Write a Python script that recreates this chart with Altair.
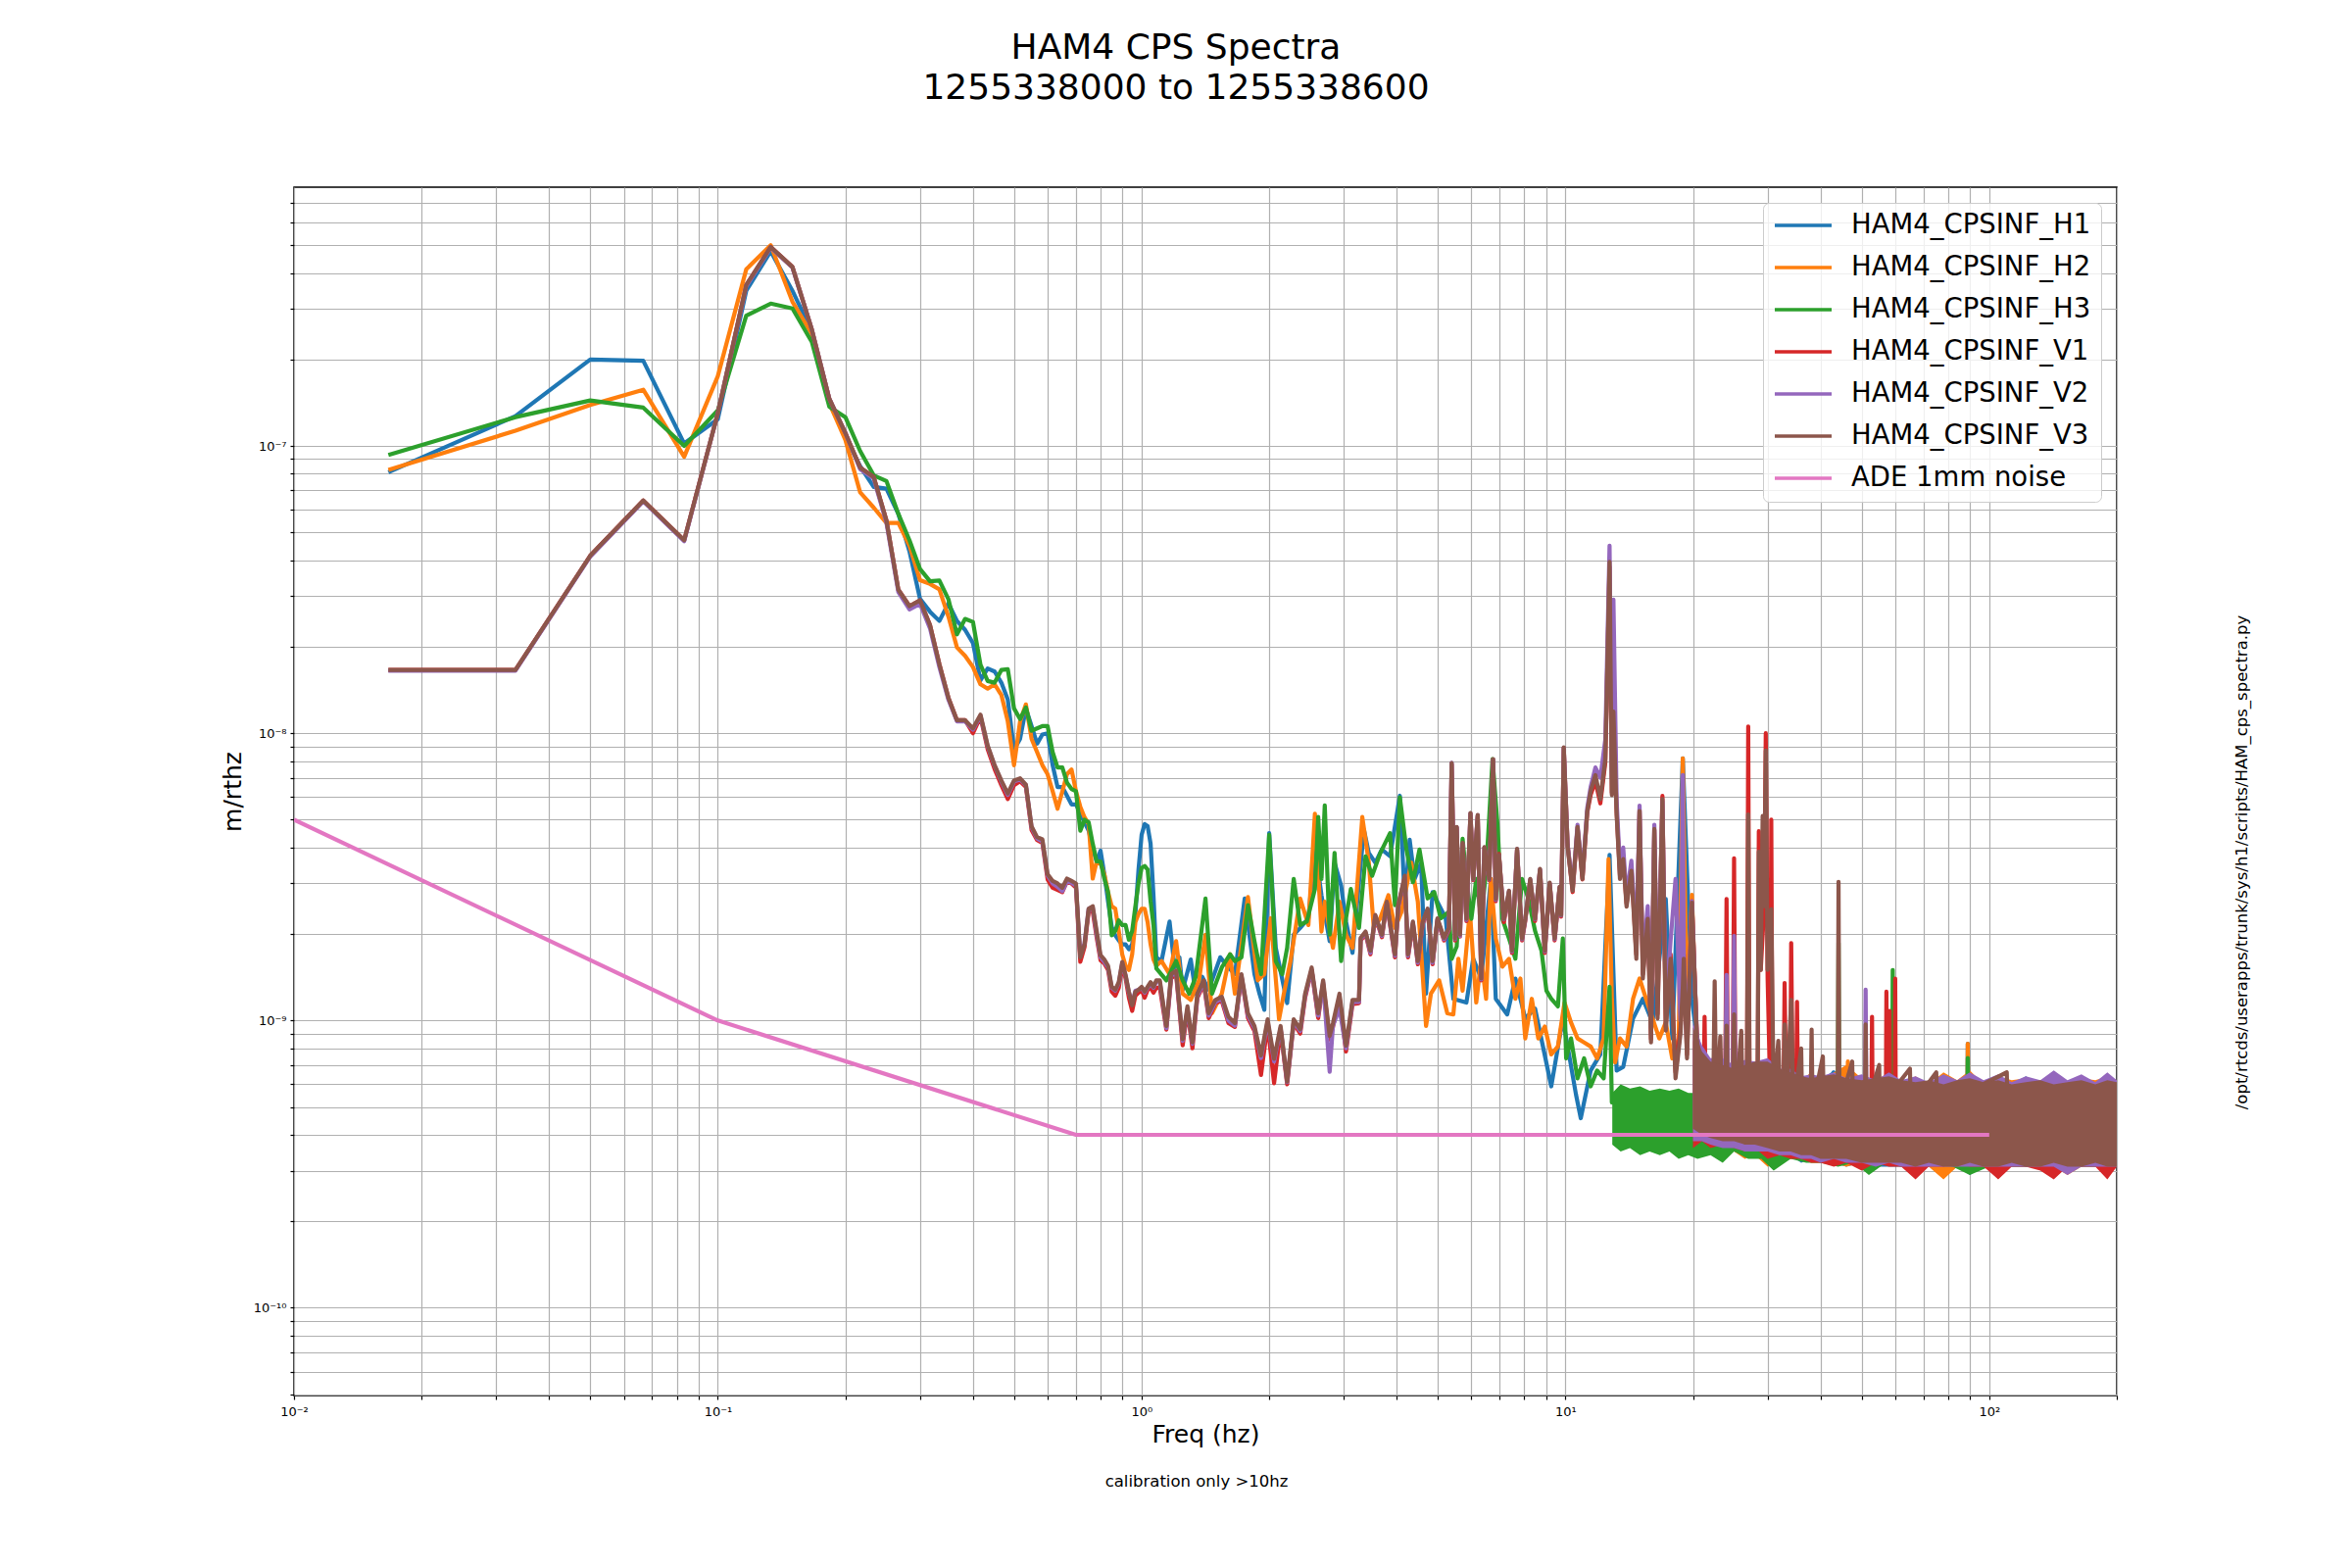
import altair as alt
import pandas as pd

SERIES = ["HAM4_CPSINF_H1", "HAM4_CPSINF_H2", "HAM4_CPSINF_H3",
          "HAM4_CPSINF_V1", "HAM4_CPSINF_V2", "HAM4_CPSINF_V3", "ADE 1mm noise"]
COLORS = ["#1f77b4", "#ff7f0e", "#2ca02c", "#d62728", "#9467bd", "#8c564b", "#e377c2"]
UNIT = 1e-9  # values below are in units of 1e-9 m/rtHz

X_TICKS = [0.01, 0.02, 0.03, 0.04, 0.05, 0.06, 0.07, 0.08, 0.09,
           0.1, 0.2, 0.3, 0.4, 0.5, 0.6, 0.7, 0.8, 0.9,
           1, 2, 3, 4, 5, 6, 7, 8, 9,
           10, 20, 30, 40, 50, 60, 70, 80, 90, 100, 200]
Y_TICKS = [5e-11, 6e-11, 7e-11, 8e-11, 9e-11,
           1e-10, 2e-10, 3e-10, 4e-10, 5e-10, 6e-10, 7e-10, 8e-10, 9e-10,
           1e-9, 2e-9, 3e-9, 4e-9, 5e-9, 6e-9, 7e-9, 8e-9, 9e-9,
           1e-8, 2e-8, 3e-8, 4e-8, 5e-8, 6e-8, 7e-8, 8e-8, 9e-8,
           1e-7, 2e-7, 3e-7, 4e-7, 5e-7, 6e-7, 7e-7]
X_LABELS = {-2: "10⁻²", -1: "10⁻¹", 0: "10⁰", 1: "10¹", 2: "10²"}
Y_LABELS = {-10: "10⁻¹⁰", -9: "10⁻⁹", -8: "10⁻⁸", -7: "10⁻⁷"}

# ---- low-frequency part, df = 1/60 Hz ----
LOW_F = [0.0167, 0.0333, 0.05, 0.0667, 0.0833, 0.1, 0.1167, 0.1333, 0.15, 0.1667,
         0.1833, 0.2, 0.2167, 0.2333, 0.25, 0.2667, 0.2833, 0.3, 0.3167, 0.3333,
         0.35, 0.3667, 0.3833, 0.4, 0.4167, 0.4333, 0.45, 0.4667, 0.4833, 0.5,
         0.5167, 0.5333, 0.55, 0.5667, 0.5833, 0.6, 0.6167, 0.6333, 0.65, 0.6667,
         0.6833, 0.7, 0.7167, 0.7333, 0.75, 0.7667, 0.7833, 0.8, 0.8167, 0.8333,
         0.85, 0.8667, 0.8833, 0.9, 0.9167, 0.9333, 0.95, 0.9667, 0.9833, 1.0,
         1.0167, 1.0333, 1.05, 1.0667, 1.0833]
H1_LOW = [81, 127, 200, 198, 102, 124, 347, 476, 347, 250,
          141, 108, 85, 72, 71, 58, 43, 29.4, 26.5, 24.6,
          28.3, 24.6, 22.9, 20.6, 15.3, 16.8, 16.4, 15.0, 13.1, 8.76,
          9.56, 12.2, 10.6, 9.2, 9.9, 10.0, 7.74, 6.5, 6.5, 6.06,
          5.65, 5.65, 5.27, 4.9, 4.58, 3.98, 3.58, 3.9, 3.23, 2.6,
          2.12, 1.98, 1.9, 1.84, 1.84, 1.77, 1.84, 2.35, 3.35, 4.43,
          4.83, 4.75, 4.13, 2.72, 1.66]
H2_LOW = [82.6, 113, 139, 157, 91.7, 175, 412, 500, 318, 245,
          141, 105, 69, 61, 54, 54, 45, 34.1, 33.1, 31.7,
          25.5, 19.9, 18.6, 17.0, 14.8, 14.3, 14.8, 13.6, 11.0, 7.74,
          11.0, 12.6, 9.56, 8.6, 7.74, 7.2, 6.28, 5.46, 6.28, 7.2,
          7.48, 6.28, 5.55, 5.1, 4.83, 3.12, 3.58, 3.52, 3.23, 2.8,
          2.5, 2.45, 2.05, 1.7, 1.55, 1.5, 1.7, 2.2, 2.35, 2.45,
          2.45, 2.2, 1.84, 1.63, 1.55]
H3_LOW = [93, 126, 144, 136, 100, 133, 284, 313, 301, 230,
          137, 126, 96, 79, 75.5, 58, 47, 37.3, 33.8, 34.0,
          29.3, 22.1, 25.0, 24.4, 17.3, 15.2, 15.0, 16.6, 16.7, 12.2,
          11.2, 12.3, 10.2, 10.4, 10.6, 10.6, 8.6, 7.6, 7.6, 6.73,
          6.4, 6.28, 4.58, 5.0, 4.9, 4.13, 3.58, 3.58, 3.12, 2.8,
          1.98, 2.05, 2.23, 2.15, 2.15, 1.91, 2.05, 2.5, 3.0, 3.4,
          3.45, 3.35, 2.6, 2.15, 1.52]
V1_LOW = [16.6, 16.6, 41.5, 64.6, 47, 130, 363, 493, 420, 254,
          146, 111, 84, 78, 55, 31.6, 27.7, 29.0, 23.8, 17.4,
          13.3, 11.1, 11.1, 10.0, 11.4, 8.8, 7.5, 6.6, 5.9, 6.6,
          6.8, 6.5, 4.6, 4.25, 4.15, 3.1, 2.9, 2.85, 2.8, 3.05,
          3.0, 2.9, 1.6, 1.8, 2.4, 2.4, 1.95, 1.62, 1.58, 1.5,
          1.26, 1.22, 1.3, 1.55, 1.4, 1.2, 1.08, 1.22, 1.25, 1.28,
          1.2, 1.28, 1.3, 1.25, 1.3]
V2_LOW = [16.5, 16.5, 41.2, 64.2, 46.6, 130, 360, 490, 418, 254,
          146, 111, 83, 77, 54, 31.0, 27.0, 28.2, 23.2, 17.0,
          13.1, 11.0, 11.0, 10.3, 11.5, 9.0, 7.7, 6.8, 6.1, 6.8,
          6.9, 6.6, 4.7, 4.3, 4.2, 3.2, 3.0, 2.92, 2.82, 3.05,
          3.02, 2.95, 1.68, 1.86, 2.45, 2.48, 2.0, 1.66, 1.6, 1.53,
          1.3, 1.27, 1.35, 1.58, 1.43, 1.25, 1.15, 1.27, 1.28, 1.3,
          1.25, 1.3, 1.34, 1.3, 1.37]
V3_LOW = [16.6, 16.6, 41.5, 64.6, 47, 130, 363, 493, 420, 254,
          146, 111, 84, 78, 55, 31.6, 27.7, 29.0, 23.8, 17.4,
          13.3, 11.1, 11.1, 10.4, 11.6, 9.07, 7.74, 6.85, 6.17, 6.85,
          6.97, 6.62, 4.74, 4.35, 4.27, 3.23, 3.06, 3.0, 2.9, 3.12,
          3.06, 3.0, 1.66, 1.84, 2.45, 2.5, 2.05, 1.69, 1.63, 1.55,
          1.31, 1.28, 1.36, 1.6, 1.44, 1.26, 1.13, 1.26, 1.28, 1.31,
          1.26, 1.31, 1.36, 1.31, 1.38]

# ---- mid / high frequency lines ----
H1_MID_F = [1.114, 1.164, 1.196, 1.228, 1.25, 1.306, 1.342, 1.39, 1.44, 1.533,
            1.603, 1.66, 1.751, 1.846, 1.897, 1.948, 2.0, 2.073, 2.205, 2.285,
            2.367, 2.475, 2.564, 2.657, 2.778, 2.853, 2.956, 3.036, 3.145, 3.258,
            3.346, 3.437, 3.56, 3.69, 3.857, 4.068, 4.178, 4.29, 4.406, 4.566,
            4.69, 4.859, 5.035, 5.218, 5.44, 5.84, 6.06, 6.33, 6.67, 6.85,
            7.29, 7.62, 8.04, 8.48, 9.26, 9.86, 10.59, 10.87, 11.47, 12.09,
            12.71, 13.21, 13.69, 14.44, 15.23, 16.06, 17.25, 17.87, 18.92, 19.88,
            20.42, 21.5, 42.7, 42.9, 43.1, 88.8, 89.0, 89.2, 200]
H1_MID_V = [1.61, 2.21, 1.53, 1.66, 1.28, 1.63, 1.24, 1.42, 1.28, 1.66,
            1.53, 1.45, 2.66, 1.45, 1.24, 1.09, 4.49, 1.79, 1.15, 1.99,
            2.10, 2.27, 4.04, 2.73, 1.89, 3.54, 2.95, 2.21, 1.72, 3.03,
            4.61, 3.83, 3.54, 3.94, 3.73, 6.06, 2.59, 4.26, 3.11, 3.54,
            1.24, 2.80, 2.52, 2.27, 1.19, 1.155, 1.64, 1.40, 3.11, 1.19,
            1.05, 1.40, 1.016, 1.10, 0.59, 1.016, 0.553, 0.457, 0.67, 0.762,
            3.77, 0.67, 0.69, 1.016, 1.19, 0.984, 2.65, 0.866, 8.18, 1.19,
            0.866, 0.5, 0.5, 0.66, 0.5, 0.5, 0.83, 0.5, 0.45]
H2_MID_F = [1.114, 1.164, 1.206, 1.25, 1.306, 1.366, 1.415, 1.466, 1.546, 1.617,
            1.66, 1.782, 1.88, 1.948, 2.018, 2.11, 2.166, 2.245, 2.367, 2.475,
            2.564, 2.657, 2.705, 2.828, 2.93, 3.036, 3.145, 3.317, 3.437, 3.53,
            3.658, 3.823, 3.961, 4.104, 4.328, 4.485, 4.69, 4.816, 5.035, 5.264,
            5.44, 5.59, 5.72, 5.95, 6.16, 6.33, 6.50, 6.67, 6.85, 7.10,
            7.36, 7.62, 7.83, 8.04, 8.33, 8.63, 8.94, 9.26, 9.60, 9.95,
            10.31, 10.68, 11.07, 11.47, 11.88, 12.31, 12.64, 12.87, 13.10, 13.45,
            13.94, 14.44, 14.96, 15.50, 16.06, 16.65, 17.25, 17.87, 18.51, 18.92,
            19.36, 19.88, 20.42, 20.97, 21.5, 46.2, 46.4, 46.6, 88.8, 89.0,
            89.2, 200]
H2_MID_V = [1.61, 1.45, 1.89, 1.24, 1.18, 1.38, 1.99, 1.06, 1.24, 1.70,
            1.24, 2.69, 1.38, 1.45, 2.27, 1.01, 1.24, 1.61, 2.66, 2.15,
            5.25, 2.04, 2.59, 1.79, 2.59, 1.99, 1.79, 5.11, 3.54, 2.10,
            2.27, 2.73, 2.10, 2.39, 3.54, 2.59, 0.957, 1.24, 1.38, 1.06,
            1.05, 1.64, 1.27, 2.41, 1.155, 1.64, 1.19, 3.11, 1.93, 1.54,
            1.64, 1.19, 1.40, 0.866, 1.19, 0.866, 0.953, 0.762, 0.812, 1.155,
            0.984, 0.866, 0.839, 0.812, 0.738, 0.866, 3.65, 1.19, 0.715, 0.866,
            0.812, 1.19, 1.40, 1.19, 1.016, 0.866, 0.984, 0.738, 0.866, 8.18,
            1.016, 2.74, 0.866, 0.67, 0.5, 0.5, 0.72, 0.5, 0.5, 0.83,
            0.5, 0.45]
H3_MID_F = [1.144, 1.206, 1.25, 1.295, 1.342, 1.415, 1.466, 1.546, 1.617, 1.66,
            1.72, 1.782, 1.846, 1.913, 2.0, 2.073, 2.147, 2.205, 2.285, 2.367,
            2.453, 2.564, 2.61, 2.657, 2.705, 2.778, 2.853, 2.956, 3.036, 3.117,
            3.258, 3.376, 3.498, 3.658, 3.857, 3.961, 4.068, 4.215, 4.367, 4.525,
            4.731, 4.903, 5.08, 5.31, 5.39, 5.54, 5.72, 5.84, 6.0, 6.16,
            6.33, 6.50, 6.73, 6.91, 7.10, 7.36, 7.62, 7.90, 8.18, 8.48,
            8.78, 9.02, 9.26, 9.60, 9.86, 10.04, 10.31, 10.68, 11.07, 11.47,
            11.88, 12.31, 12.71, 12.87, 43.9, 44.1, 44.3, 59.0, 59.2, 59.4,
            88.8, 89.0, 89.2, 200]
H3_MID_V = [1.38, 1.61, 1.38, 1.24, 1.42, 2.66, 1.24, 1.53, 1.70, 1.61,
            1.66, 2.52, 1.89, 1.45, 4.43, 1.61, 1.45, 1.79, 3.11, 2.15,
            2.21, 2.87, 5.11, 3.11, 5.61, 1.99, 3.83, 1.61, 2.27, 2.87,
            2.10, 3.73, 3.19, 3.83, 4.49, 2.52, 5.98, 3.94, 3.03, 3.94,
            2.66, 2.80, 2.27, 2.39, 1.64, 1.81, 4.29, 3.11, 2.26, 3.11,
            2.26, 3.32, 8.13, 4.87, 2.26, 1.93, 1.64, 3.11, 2.65, 2.05,
            1.75, 1.27, 1.19, 1.12, 1.93, 0.738, 0.866, 0.629, 0.738, 0.59,
            0.67, 0.629, 1.31, 0.519, 0.45, 1.86, 0.45, 0.45, 1.5, 0.45,
            0.45, 0.74, 0.45, 0.45]

V_MID_F = [1.104, 1.144, 1.174, 1.206, 1.25, 1.283, 1.318, 1.354, 1.402, 1.44,
           1.493, 1.546, 1.603, 1.66, 1.72, 1.782, 1.846, 1.913, 1.983, 2.054,
           2.128, 2.205, 2.285, 2.367, 2.431, 2.519, 2.61, 2.681, 2.778, 2.828,
           2.93, 3.036, 3.145, 3.258, 3.287, 3.376, 3.467, 3.56, 3.69, 3.79,
           3.961, 4.032, 4.178, 4.252, 4.367, 4.485, 4.606, 4.731, 4.859, 4.99,
           5.17, 5.31, 5.39, 5.49, 5.54, 5.64, 5.72, 5.84, 5.97, 6.06,
           6.21, 6.33, 6.44, 6.61, 6.75, 6.85, 6.97, 7.16, 7.36, 7.48,
           7.69, 7.90, 8.04, 8.26, 8.48, 8.71, 8.94, 9.18, 9.43, 9.69,
           9.77, 9.91, 10.12, 10.40, 10.68, 10.97, 11.26, 11.47, 11.77, 12.09,
           12.42, 12.71, 12.87, 12.98, 13.21, 13.45, 13.69, 13.94, 14.31, 14.70,
           14.96, 15.23, 15.64, 15.92, 16.21, 16.50, 16.94, 17.25, 17.71, 18.19,
           18.68, 18.92, 19.02, 19.36, 19.88, 20.42, 20.97]
V1_MID = [1.30, 0.93, 1.40, 1.45, 0.82, 1.08, 0.80, 1.20, 1.34, 1.02,
          1.15, 1.17, 0.98, 0.95, 1.42, 1.02, 0.92, 0.646, 0.97, 0.605,
          0.93, 0.60, 0.98, 0.90, 1.2, 1.5, 1.02, 1.34, 0.86, 0.95,
          1.2, 0.78, 1.14, 1.15, 1.9, 2.0, 1.7, 2.3, 1.95, 2.55,
          1.66, 2.48, 3.15, 1.66, 2.17, 1.57, 2.17, 2.42, 1.57, 2.24,
          1.9, 2.06, 7.8, 1.9, 4.7, 1.96, 4.1, 2.22, 5.25, 3.08,
          5.15, 1.38, 4.0, 3.08, 8.1, 2.6, 3.8, 2.2, 2.8, 1.72,
          3.93, 1.9, 2.22, 3.08, 2.22, 3.34, 1.72, 3.0, 1.9, 2.9,
          2.3, 8.9, 4.1, 2.8, 4.7, 3.1, 5.3, 6.1, 6.8, 5.7,
          7.9, 38.0, 6.2, 11.5, 5.3, 3.2, 3.7, 2.55, 3.4, 1.7,
          5.4, 1.45, 2.3, 0.86, 4.6, 1.05, 6.05, 0.95, 1.7, 0.66,
          0.93, 1.35, 1.7, 0.76, 2.6, 0.9, 0.62]
V2_MID = [1.36, 0.94, 1.43, 1.47, 0.85, 1.1, 0.83, 1.22, 1.36, 1.04,
          1.16, 1.19, 1.0, 0.96, 1.43, 1.04, 0.94, 0.74, 0.99, 0.72,
          0.94, 0.61, 0.99, 0.92, 1.22, 1.5, 1.04, 1.36, 0.663, 0.96,
          1.1, 0.8, 1.16, 1.16, 1.92, 2.02, 1.72, 2.31, 1.97, 2.57,
          1.68, 2.5, 3.17, 1.68, 2.19, 1.59, 2.19, 2.43, 1.59, 2.25,
          1.92, 2.08, 7.9, 1.92, 4.7, 1.97, 4.13, 2.24, 5.27, 3.1,
          5.18, 1.39, 4.0, 3.1, 8.1, 2.63, 3.75, 2.25, 2.82, 1.74,
          3.95, 1.92, 2.25, 3.1, 2.25, 3.36, 1.74, 3.01, 1.92, 2.91,
          2.32, 8.9, 4.1, 2.9, 4.8, 3.2, 5.5, 6.5, 7.6, 7.0,
          9.5, 45.0, 7.0, 29.2, 5.8, 3.4, 4.0, 2.7, 3.6, 1.9,
          5.6, 1.6, 2.5, 0.95, 4.8, 1.2, 5.8, 1.1, 1.9, 3.11,
          1.0, 7.15, 1.7, 0.8, 2.6, 0.9, 0.62]
V3_MID = [1.38, 0.957, 1.45, 1.49, 0.861, 1.12, 0.839, 1.24, 1.38, 1.06,
          1.18, 1.21, 1.03, 0.98, 1.45, 1.06, 0.957, 0.756, 1.01, 0.736,
          0.957, 0.613, 1.01, 0.932, 1.24, 1.53, 1.06, 1.38, 0.884, 0.98,
          1.24, 0.818, 1.18, 1.18, 1.94, 2.04, 1.75, 2.33, 1.99, 2.59,
          1.70, 2.52, 3.19, 1.70, 2.21, 1.61, 2.21, 2.45, 1.61, 2.27,
          1.94, 2.10, 7.87, 1.93, 4.72, 1.99, 4.15, 2.26, 5.28, 3.11,
          5.19, 1.40, 4.02, 3.11, 8.13, 2.65, 3.77, 2.26, 2.83, 1.75,
          3.96, 1.93, 2.26, 3.11, 2.26, 3.37, 1.75, 3.02, 1.93, 2.92,
          2.33, 8.94, 4.02, 2.83, 4.72, 3.11, 5.36, 6.29, 7.15, 5.90,
          8.13, 39.5, 6.09, 11.9, 5.19, 3.11, 3.65, 2.49, 3.32, 1.64,
          5.36, 1.40, 2.26, 0.839, 4.64, 1.016, 5.90, 0.923, 1.64, 0.629,
          0.894, 1.3, 1.64, 0.738, 2.57, 0.866, 0.59]

V1_HI_F = [21.15, 21.3, 21.45, 23.8, 24.0, 24.2, 24.8, 25.0, 25.2, 26.8,
           27.0, 27.2, 28.4, 28.6, 28.9, 29.45, 29.7, 30.0, 30.4, 30.6,
           30.8, 32.7, 32.9, 33.2, 33.9, 34.1, 34.4, 35.0, 35.2, 35.4,
           52.7, 52.9, 53.1, 57.0, 57.2, 57.5, 58.0, 58.2, 58.4, 59.8,
           60.0, 60.2, 200]
V1_HI_V = [0.5, 1.03, 0.5, 0.5, 2.65, 0.5, 0.5, 3.67, 0.5, 0.5,
           10.56, 0.5, 0.5, 4.56, 1.5, 2.5, 10.0, 1.4, 0.6, 5.0,
           0.6, 0.5, 1.35, 0.5, 0.5, 1.86, 0.5, 0.5, 1.16, 0.5,
           0.45, 1.03, 0.45, 0.45, 1.26, 0.45, 0.45, 1.08, 0.45, 0.45,
           1.4, 0.45, 0.45]
V2_HI_F = [22.0, 23.8, 24.0, 24.2, 24.8, 25.0, 25.2, 50.9, 51.1, 51.3, 200]
V2_HI_V = [0.55, 0.55, 1.44, 0.55, 0.55, 1.97, 0.55, 0.5, 1.28, 0.5, 0.5]
V3_HI_F = [21.5, 22.3, 22.5, 22.7, 23.2, 23.4, 23.8, 24.0, 24.2, 24.8,
           25.0, 25.2, 26.0, 26.2, 26.8, 27.0, 27.2, 28.4, 28.6, 28.9,
           29.2, 29.45, 29.7, 30.0, 30.6, 31.0, 31.8, 32.1, 32.7, 32.9,
           33.3, 34.1, 34.5, 36.0, 36.2, 37.9, 38.1, 38.3, 40.5, 40.7,
           43.9, 44.1, 44.3, 47.5, 47.7, 50.9, 51.1, 51.3, 55.0, 55.2,
           65.0, 65.3, 75.0, 75.3, 110.0, 110.5, 200]
V3_HI_V = [0.5, 0.5, 1.37, 0.5, 0.88, 0.5, 0.5, 0.96, 0.5, 0.5,
           1.05, 0.5, 0.92, 0.5, 0.5, 5.22, 0.5, 0.55, 3.87, 1.5,
           5.15, 2.5, 8.7, 1.5, 2.44, 0.55, 0.85, 0.55, 0.55, 0.97,
           0.55, 1.18, 0.5, 0.8, 0.5, 0.5, 0.93, 0.5, 0.75, 0.5,
           0.5, 3.04, 0.5, 0.72, 0.5, 0.5, 0.97, 0.5, 0.7, 0.5,
           0.68, 0.5, 0.66, 0.5, 0.66, 0.5, 0.48]

ADE_F = [0.01, 0.1, 0.7, 100]
ADE_V = [5.0, 1.0, 0.4, 0.4]

# ---- dense noise floor (envelopes, low/high) ----
BAND_F = [20, 21, 22, 23.5, 25, 26.5, 28, 30, 32, 34, 36, 38, 40, 43, 46, 50, 54, 58, 62, 67,
          72, 78, 84, 90, 97, 105, 113, 122, 132, 142, 153, 165, 178, 190, 200]
H1_BAND_HI = [0.80, 0.72, 0.70, 0.68, 0.66, 0.68, 0.66, 0.70, 0.64, 0.66, 0.62, 0.64, 0.62, 0.67, 0.64, 0.62, 0.62, 0.64,
              0.62, 0.63, 0.60, 0.64, 0.61, 0.65, 0.60, 0.64, 0.60, 0.64, 0.60, 0.63, 0.60, 0.64, 0.61, 0.64, 0.61]
H1_BAND_LO = [0.38, 0.37, 0.35, 0.36, 0.35, 0.34, 0.35, 0.33, 0.33, 0.34, 0.32, 0.33, 0.32, 0.32, 0.31, 0.32, 0.31, 0.31,
              0.31, 0.31, 0.31, 0.31, 0.31, 0.29, 0.31, 0.31, 0.31, 0.31, 0.31, 0.30, 0.31, 0.31, 0.31, 0.31, 0.31]
H2_BAND_HI = [0.85, 0.75, 0.70, 0.72, 0.66, 0.70, 0.66, 0.72, 0.64, 0.68, 0.62, 0.66, 0.62, 0.66, 0.70, 0.63, 0.62, 0.66,
              0.60, 0.64, 0.60, 0.66, 0.62, 0.67, 0.60, 0.64, 0.62, 0.63, 0.61, 0.63, 0.61, 0.63, 0.62, 0.64, 0.62]
H2_BAND_LO = [0.38, 0.36, 0.36, 0.35, 0.35, 0.33, 0.34, 0.31, 0.33, 0.33, 0.33, 0.32, 0.32, 0.32, 0.31, 0.32, 0.31, 0.32,
              0.31, 0.31, 0.31, 0.28, 0.31, 0.31, 0.31, 0.31, 0.31, 0.31, 0.31, 0.31, 0.29, 0.31, 0.31, 0.31, 0.31]
H3_BAND_F = [12.9, 13.5, 14.2, 15, 15.8, 16.7, 17.6, 18.5, 19.5, 20.5, 22, 23.5, 25, 27, 29, 31, 34, 37, 40, 44,
             48, 52, 57, 62, 68, 75, 82, 90, 100, 112, 125, 140, 160, 180, 200]
H3_BAND_HI = [0.56, 0.60, 0.58, 0.59, 0.57, 0.58, 0.57, 0.58, 0.56, 0.56, 0.55, 0.56, 0.56, 0.57, 0.56, 0.57, 0.58, 0.57,
              0.58, 0.58, 0.57, 0.58, 0.57, 0.58, 0.59, 0.60, 0.59, 0.60, 0.60, 0.59, 0.60, 0.60, 0.59, 0.60, 0.59]
H3_BAND_LO = [0.37, 0.35, 0.36, 0.34, 0.35, 0.34, 0.35, 0.33, 0.34, 0.33, 0.34, 0.32, 0.35, 0.33, 0.33, 0.30, 0.33, 0.32,
              0.32, 0.31, 0.32, 0.29, 0.32, 0.31, 0.31, 0.32, 0.31, 0.29, 0.31, 0.31, 0.31, 0.32, 0.31, 0.31, 0.31]
V1_BAND_HI = [0.90, 0.76, 0.72, 0.68, 0.70, 0.68, 0.70, 0.70, 0.66, 0.64, 0.62, 0.62, 0.63, 0.63, 0.62, 0.61, 0.62, 0.62,
              0.61, 0.60, 0.61, 0.60, 0.61, 0.61, 0.60, 0.61, 0.60, 0.60, 0.61, 0.60, 0.60, 0.61, 0.60, 0.60, 0.60]
V1_BAND_LO = [0.36, 0.38, 0.36, 0.37, 0.36, 0.35, 0.36, 0.33, 0.34, 0.33, 0.33, 0.32, 0.32, 0.31, 0.32, 0.30, 0.32, 0.31,
              0.31, 0.28, 0.31, 0.31, 0.32, 0.31, 0.31, 0.28, 0.31, 0.31, 0.30, 0.28, 0.31, 0.31, 0.31, 0.28, 0.31]
V2_BAND_HI = [0.98, 0.82, 0.74, 0.74, 0.70, 0.73, 0.72, 0.74, 0.68, 0.68, 0.64, 0.65, 0.64, 0.66, 0.63, 0.65, 0.62, 0.66,
              0.62, 0.64, 0.61, 0.65, 0.62, 0.66, 0.62, 0.65, 0.61, 0.64, 0.62, 0.67, 0.62, 0.65, 0.61, 0.66, 0.62]
V2_BAND_LO = [0.38, 0.38, 0.37, 0.36, 0.36, 0.35, 0.35, 0.35, 0.34, 0.34, 0.33, 0.33, 0.32, 0.33, 0.32, 0.32, 0.31, 0.32,
              0.31, 0.31, 0.31, 0.31, 0.31, 0.31, 0.31, 0.31, 0.31, 0.31, 0.31, 0.31, 0.29, 0.31, 0.31, 0.31, 0.31]
V3_BAND_HI = [0.95, 0.78, 0.72, 0.70, 0.68, 0.70, 0.72, 0.72, 0.68, 0.66, 0.64, 0.63, 0.64, 0.65, 0.63, 0.62, 0.63, 0.64,
              0.62, 0.61, 0.62, 0.60, 0.62, 0.63, 0.61, 0.62, 0.60, 0.61, 0.62, 0.60, 0.61, 0.62, 0.60, 0.62, 0.61]
V3_BAND_LO = [0.42, 0.40, 0.39, 0.38, 0.38, 0.37, 0.37, 0.36, 0.35, 0.35, 0.34, 0.34, 0.33, 0.33, 0.33, 0.32, 0.32, 0.32,
              0.32, 0.31, 0.32, 0.31, 0.31, 0.32, 0.31, 0.31, 0.32, 0.31, 0.31, 0.32, 0.31, 0.31, 0.32, 0.31, 0.31]

TITLE = ["HAM4 CPS Spectra", "1255338000 to 1255338600"]
X_TITLE = "Freq (hz)"
Y_TITLE = "m/rthz"
FOOT = "calibration only >10hz"
SIDE = "/opt/rtcds/userapps/trunk/sys/h1/scripts/HAM_cps_spectra.py"

FONT = "DejaVu Sans"


def line_df(name, fs, vs):
    rows = sorted(zip(fs, vs))
    return pd.DataFrame({"f": [r[0] for r in rows], "v": [r[1] * UNIT for r in rows], "series": name})


def band_df(fs, lo, hi):
    n = min(len(fs), len(lo), len(hi))
    return pd.DataFrame({"f": fs[:n], "v": [x * UNIT for x in lo[:n]], "v2": [x * UNIT for x in hi[:n]]})


def label_expr(mapping):
    parts = []
    for e, lab in mapping.items():
        parts.append(f"abs(log(datum.value)/LN10 - ({e})) < 0.001 ? '{lab}'")
    return " : ".join(parts) + " : ''"


x_enc = alt.X("f:Q", title=X_TITLE,
              scale=alt.Scale(type="log", domain=[0.01, 200], nice=False),
              axis=alt.Axis(values=X_TICKS, labelExpr=label_expr(X_LABELS), tickSize=4,
                            labelPadding=6, labelFontSize=13, titleFontSize=25, titlePadding=4,
                            labelOverlap=False, labelFlush=False, labelBound=False))
y_enc = alt.Y("v:Q", title=Y_TITLE,
              scale=alt.Scale(type="log", domain=[4.95e-11, 7.96e-7], nice=False),
              axis=alt.Axis(values=Y_TICKS, labelExpr=label_expr(Y_LABELS), tickSize=4,
                            labelPadding=4, labelFontSize=13, titleFontSize=25, titlePadding=8,
                            labelOverlap=False, labelFlush=False, labelBound=False))
legend = alt.Legend(title=None, orient="none", legendX=1499, legendY=16,
                    symbolType="stroke", symbolSize=3364, symbolStrokeWidth=3.7,
                    clipHeight=26, rowPadding=15, labelFontSize=27.5, labelFont=FONT,
                    labelOffset=18, padding=10, fillColor="rgba(255,255,255,0.8)",
                    strokeColor="#cccccc", cornerRadius=6, labelLimit=600, labelColor="black")
c_enc = alt.Color("series:N", scale=alt.Scale(domain=SERIES, range=COLORS), legend=legend)


def line_layer(df):
    return alt.Chart(df).mark_line(strokeWidth=4.2, strokeJoin="round", clip=True).encode(
        x=x_enc, y=y_enc, color=c_enc)


def band_layer(df, color):
    return alt.Chart(df).mark_area(color=color, opacity=1, orient="vertical", clip=True).encode(
        x=x_enc, y=y_enc, y2=alt.Y2("v2:Q"))


layers = [
    line_layer(line_df(SERIES[0], LOW_F + H1_MID_F, H1_LOW + H1_MID_V)),
    band_layer(band_df(BAND_F, H1_BAND_LO, H1_BAND_HI), COLORS[0]),
    line_layer(line_df(SERIES[1], LOW_F + H2_MID_F, H2_LOW + H2_MID_V)),
    band_layer(band_df(BAND_F, H2_BAND_LO, H2_BAND_HI), COLORS[1]),
    line_layer(line_df(SERIES[2], LOW_F + H3_MID_F, H3_LOW + H3_MID_V)),
    band_layer(band_df(H3_BAND_F, H3_BAND_LO, H3_BAND_HI), COLORS[2]),
    line_layer(line_df(SERIES[3], LOW_F + V_MID_F + V1_HI_F, V1_LOW + V1_MID + V1_HI_V)),
    band_layer(band_df(BAND_F, V1_BAND_LO, V1_BAND_HI), COLORS[3]),
    line_layer(line_df(SERIES[4], LOW_F + V_MID_F + V2_HI_F, V2_LOW + V2_MID + V2_HI_V)),
    band_layer(band_df(BAND_F, V2_BAND_LO, V2_BAND_HI), COLORS[4]),
    line_layer(line_df(SERIES[5], LOW_F + V_MID_F + V3_HI_F, V3_LOW + V3_MID + V3_HI_V)),
    band_layer(band_df(BAND_F, V3_BAND_LO, V3_BAND_HI), COLORS[5]),
    line_layer(line_df(SERIES[6], ADE_F, ADE_V)),
]

foot = alt.Chart(pd.DataFrame({"t": [FOOT]})).mark_text(
    font=FONT, fontSize=16.5, color="black", align="center", baseline="middle").encode(
    text="t:N", x=alt.value(921), y=alt.value(1321))
side = alt.Chart(pd.DataFrame({"t": [SIDE]})).mark_text(
    font=FONT, fontSize=16.5, color="black", align="center", baseline="middle", angle=270).encode(
    text="t:N", x=alt.value(1988), y=alt.value(689))

chart = alt.layer(*layers, foot, side).properties(
    width=1860, height=1233,
    autosize=alt.AutoSizeParams(type="none"),
    padding={"left": 292, "top": 183, "right": 224, "bottom": 160},
    background="white",
    title=alt.TitleParams(text=TITLE, fontSize=36, font=FONT, fontWeight="normal",
                          anchor="middle", dx=-30, offset=82, lineHeight=41, color="black"),
).configure_view(stroke="black", strokeWidth=1.5).configure_axis(
    grid=True, gridColor="#b0b0b0", gridWidth=1.2, domain=False, tickColor="black",
    tickWidth=1.2, labelFont=FONT, titleFont=FONT, labelColor="black", titleColor="black",
    titleFontWeight="normal")

chart.save("out.html", embed_options={"renderer": "svg", "actions": False})
